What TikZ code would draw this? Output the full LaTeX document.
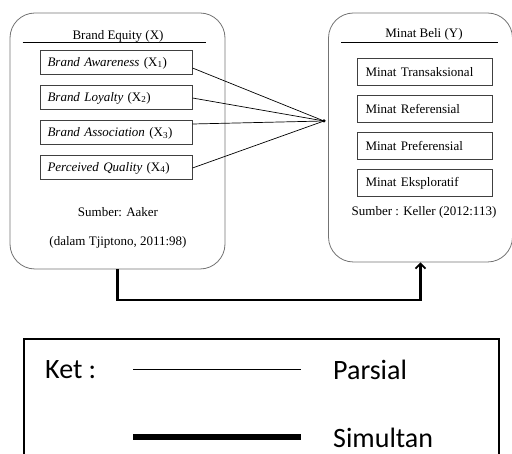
\documentclass[tikz,border=0pt]{standalone}
\usepackage{fontspec}
\setmainfont{Liberation Serif}
\newfontfamily\legendfont{Carlito}
\usetikzlibrary{positioning, arrows.meta, calc}

\begin{document}
\begin{tikzpicture}[
        x=1pt, y=-1pt,
        font=\fontsize{13}{15}\selectfont,
        panel/.style={rectangle, draw=black!55, rounded corners=25pt, inner sep=0pt, line width=0.8pt},
        dimbox/.style={rectangle, draw=black!75, line width=1pt, text width=137pt, inner xsep=7.5pt, inner ysep=0pt, minimum height=24pt, align=left},
        indbox/.style={rectangle, draw=black!75, line width=1pt, text width=118pt, inner xsep=8.5pt, inner ysep=0pt, minimum height=27pt, align=left},
        parsial/.style={draw, line width=0.7pt},
        simultan/.style={draw, line width=2.8pt, -{Straight Barb[length=5pt, width=10pt, line width=1.8pt]}},
        ket/.style={font=\legendfont\fontsize{28}{30}\selectfont, anchor=west, inner sep=0pt}
    ]
        \useasboundingbox (0,0) rectangle (512,454);

        % Panels
        \node [panel, minimum width=215pt, minimum height=256pt] (brand) at (117.5,141) {};
        \node [panel, minimum width=184pt, minimum height=249pt] (minat) at (420.5,137.5) {};

        % Titles with underline
        \node (brandtitle) at (118,36) {Brand Equity (X)};
        \node (minattitle) at (424,34) {Minat Beli (Y)};
        \draw [line width=0.7pt] ($(brand.north west)+(13,30)$) -- ($(brand.north east)+(-19,30)$);
        \draw [line width=0.7pt] ($(minat.north west)+(13,30)$) -- ($(minat.north east)+(-15,30)$);

        % Dimensions of X, stacked
        \node [dimbox] (b1) at (116,63) {\textit{Brand Awareness} (X\textsubscript{1})};
        \node [dimbox, below=10pt of b1] (b2) {\textit{Brand Loyalty} (X\textsubscript{2})};
        \node [dimbox, below=10pt of b2] (b3) {\textit{Brand Association} (X\textsubscript{3})};
        \node [dimbox, below=10pt of b3] (b4) {\textit{Perceived Quality} (X\textsubscript{4})};

        % Dimensions of Y, stacked
        \node [indbox] (m1) at (424.5,72) {Minat Transaksional};
        \node [indbox, below=9pt of m1] (m2) {Minat Referensial};
        \node [indbox, below=9pt of m2] (m3) {Minat Preferensial};
        \node [indbox, below=9pt of m3] (m4) {Minat Eksploratif};

        % Sources
        \node (srcx) at (118,212) {Sumber: Aaker};
        \node (srcx2) at (118,242) {(dalam Tjiptono, 2011:98)};
        \node (srcy) at (424,212) {Sumber : Keller (2012:113)};

        % Meeting point of the partial lines
        \node [circle, fill, inner sep=0pt, minimum size=3.5pt] (hub) at (324,121) {};

        % Edges
        \path [parsial] ([yshift=-5pt]b1.east) -- (hub.center);
        \path [parsial] (b2.east) -- (hub.center);
        \path [parsial] ([yshift=9pt]b3.east) -- (hub.center);
        \path [parsial] (b4.east) -- (hub.center);

        \coordinate (bend) at (120,300);
        \path [simultan] (brand.south) |- (bend) -| (minat.south);

        % Legend
        \draw [line width=1.2pt] (24,339) rectangle (499,470);
        \node [ket] (ketlabel) at (45,370) {Ket :};
        \node [ket] (parlabel) at (333,370) {Parsial};
        \node [ket] (simlabel) at (333,438) {Simultan};
        \draw [line width=1pt] (133,370) -- (301,370);
        \draw [line width=6.5pt] (133,437) -- (301,437);
    \end{tikzpicture}
\end{document}
